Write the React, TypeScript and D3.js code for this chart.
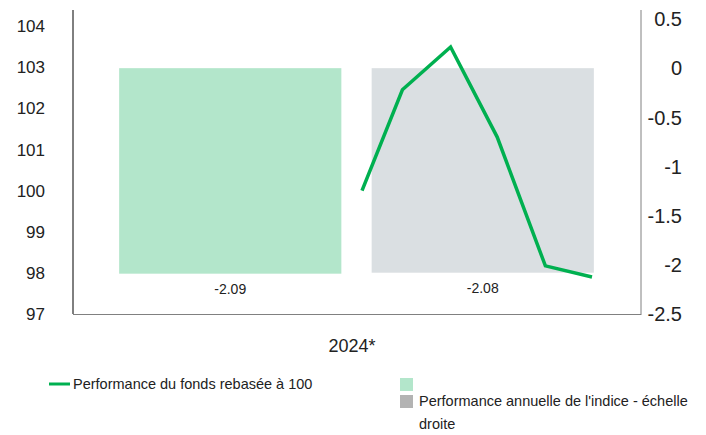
import React from "react";
import * as d3 from "d3";

const leftTicks = [97, 98, 99, 100, 101, 102, 103, 104];
const rightTicks = [-2.5, -2, -1.5, -1, -0.5, 0, 0.5];
const barSeries = ["", "Performance annuelle de l'indice - échelle droite"];
const barValues = [-2.09, -2.08];
const barColors = ["#b3e6cb", "#dadfe2"];
const legendBarColors = ["#b3e6cb", "#b3b3b3"];
const lineDates = ["2024-07-05", "2024-07-31", "2024-08-31", "2024-09-30", "2024-10-31", "2024-11-30"];
const lineValues = [100.0, 102.45, 103.49, 101.3, 98.17, 97.9];
const category = "2024*";
const lineLabel = "Performance du fonds rebasée à 100";

export default function App() {
  const W = 706, H = 435;
  const x0 = 73, x1 = 641;
  const yL = d3.scaleLinear().domain([97, 104]).range([314, 26]);
  const yR = d3.scaleLinear().domain([-2.5, 0.5]).range([314, 19]);
  const xBand = d3.scaleBand<number>().domain([0, 1]).range([104, 609]).paddingInner(0.12).paddingOuter(0.06);
  const dates = lineDates.map((s) => new Date(s + "T00:00:00"));
  const xLine = d3.scaleTime().domain([dates[0], dates[dates.length - 1]]).range([362, 592]);
  const line = d3.line<number>().x((_, i) => xLine(dates[i])).y((d) => yL(d));
  const font = "'Liberation Sans', Arial, sans-serif";
  return (
    <svg width={W} height={H} style={{ position: "absolute", left: 0, top: 0, fontFamily: font }}>
      <rect width={W} height={H} fill="#fff" />
      {barValues.map((v, i) => (
        <g key={i}>
          <rect x={xBand(i)} width={xBand.bandwidth()} y={yR(0)} height={yR(v) - yR(0)} fill={barColors[i]} />
          <text x={(xBand(i) as number) + xBand.bandwidth() / 2} y={yR(v) + 20} fontSize={14} textAnchor="middle" fill="#222">
            {v.toFixed(2)}
          </text>
        </g>
      ))}
      <path d={line(lineValues) || ""} fill="none" stroke="#00b050" strokeWidth={3.5} strokeLinejoin="miter" />
      <line x1={x0} x2={x0} y1={10} y2={314} stroke="#000" strokeWidth={1} />
      <line x1={x0} x2={x1} y1={314.5} y2={314.5} stroke="#808080" strokeWidth={1} />
      <line x1={x1} x2={x1} y1={10} y2={315} stroke="#808080" strokeWidth={1} />
      {leftTicks.map((t) => (
        <text key={t} x={45} y={yL(t)} dy="0.36em" fontSize={17} textAnchor="end" fill="#222">{t}</text>
      ))}
      {rightTicks.map((t) => (
        <text key={t} x={682} y={yR(t)} dy="0.36em" fontSize={20} textAnchor="end" fill="#222">{String(t)}</text>
      ))}
      <text x={352} y={352} fontSize={18} textAnchor="middle" fill="#222">{category}</text>
      <line x1={49} x2={70} y1={384} y2={384} stroke="#00b050" strokeWidth={3} />
      <text x={73} y={389} fontSize={14.5} fill="#222">{lineLabel}</text>
      <rect x={400} y={378} width={13} height={13} fill={legendBarColors[0]} />
      <text x={419} y={389} fontSize={14.5} fill="#222">{barSeries[0]}</text>
      <rect x={400} y={395} width={13} height={13} fill={legendBarColors[1]} />
      <text x={419} y={406} fontSize={14.5} fill="#222">Performance annuelle de l'indice - échelle</text>
      <text x={419} y={429} fontSize={14.5} fill="#222">droite</text>
    </svg>
  );
}
